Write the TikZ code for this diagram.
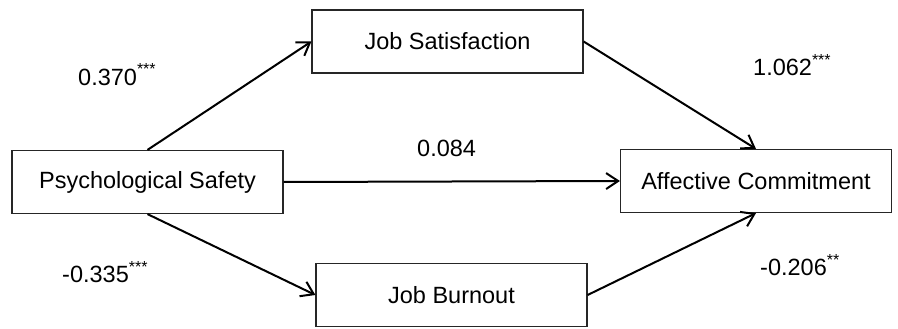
\documentclass[tikz,border=0pt]{standalone}
\usepackage{fontspec}
\setmainfont{Liberation Sans}
\usetikzlibrary{arrows.meta}
\newcommand{\stars}[1]{\raisebox{10pt}{\fontsize{16}{16}\selectfont #1}}
\begin{document}
\begin{tikzpicture}[x=1pt,y=-1pt,
  box/.style={draw=black!85,line width=1.2pt,minimum width=271pt,minimum height=63pt,inner sep=0pt,font=\fontsize{23.5}{28}\selectfont},
  lbl/.style={anchor=base west,inner sep=0pt,font=\fontsize{23.5}{28}\selectfont},
  arr/.style={line width=2pt,-{Straight Barb[length=12pt,width=16pt,line width=2pt]}}]
\useasboundingbox (0,0) rectangle (898,329);
\node[box] (ps) at (147.5,182) {Psychological Safety};
\node[box] (js) at (447.5,41.5) {Job Satisfaction};
\node[box] (ac) at (756,181) {Affective Commitment};
\node[box] (jb) at (451.5,295) {Job Burnout};
\draw[arr] (ps.north) -- (js.west);
\draw[arr] (js.east) -- (ac.north);
\draw[arr] (ps.east) -- (ac.west);
\draw[arr] (ps.south) -- (jb.west);
\draw[arr] (jb.east) -- (ac.south);
\node[lbl] (l1) at (78,85) {0.370\stars{***}};
\node[lbl] (l2) at (753,76) {1.062\stars{***}};
\node[lbl] (l3) at (417,157) {0.084};
\node[lbl] (l4) at (62,282) {-0.335\stars{***}};
\node[lbl] (l5) at (760,275) {-0.206\stars{**}};
\end{tikzpicture}
\end{document}
